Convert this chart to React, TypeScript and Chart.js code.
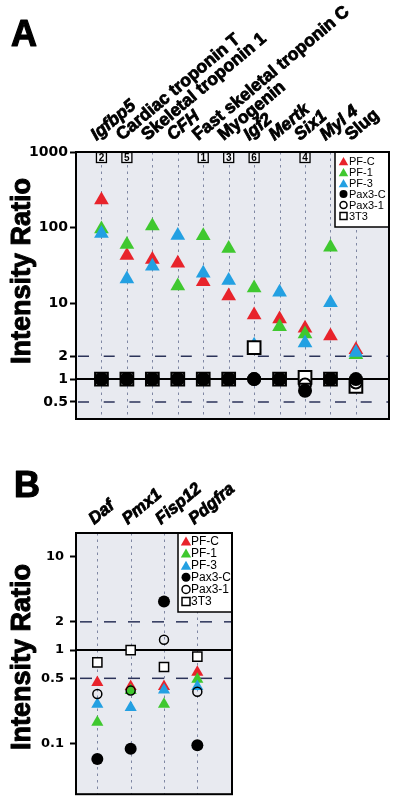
import React, { useEffect, useRef } from "react";
import { Chart, registerables } from "chart.js";
Chart.register(...registerables);

const FONT = '"Liberation Sans", Arial, Helvetica, sans-serif';
const TICKFONT = '"DejaVu Sans", "Liberation Sans", sans-serif';
const RED = "#e8232b";
const GREEN = "#3fc82f";
const BLUE = "#23a0e2";
const BG = "#e8eaf0";
const VGRID = "#7f87a3";
const HDASH = "#2b3359";

// ---------- Panel A data ----------
const genesA = [
  "Igfbp5", "Cardiac troponin T", "Skeletal troponin 1", "CFH",
  "Fast skeletal troponin C", "Myogenin", "Igf2", "Mertk", "Six1", "Myl 4", "Slug",
];
const italicA = [true, false, false, true, false, false, true, true, true, true, false];
const pfC_A = [232, 43, 38, 34, 19.3, 12.5, 7.0, 6.2, 4.7, 3.7, 2.45];
const pf1_A = [96, 60, 105, 17, 78, 53, 16, 4.9, 3.95, 55, 2.1];
const pf3_A = [84, 21, 31, 79, 25, 20, 2.8, 14, 3.0, 10.2, 2.25];
const pax3C_A = [1, 1, 1, 1, 1, 1, 1, 1, 0.7, 1, 1];
const pax31_A = [1, 1, 1, 1, 1, 1, 1, 1, 0.85, 1, 0.9];
const t3_A = [1, 1, 1, 1, 1, 1, 2.6, 1, 1.05, 1, 0.8];
const boxNumsA = ["2", "5", "", "", "1", "3", "6", "", "4", "", ""];
const yTicksA = [1000, 100, 10, 2, 1, 0.5];

// ---------- Panel B data ----------
const genesB = ["Daf", "Pmx1", "Fisp12", "Pdgfra"];
const italicB = [true, true, true, true];
const pfC_B = [0.45, 0.41, 0.41, 0.58];
const pf1_B = [0.17, 0.37, 0.265, 0.49];
const pf3_B = [0.265, 0.245, 0.375, 0.41];
const pax3C_B = [0.069, 0.089, 3.3, 0.097];
const pax31_B = [0.34, 0.37, 1.29, 0.36];
const t3_B = [0.74, 1.0, 0.66, 0.85];
const yTicksB = [10, 2, 1, 0.5, 0.1];

const legendLabels = ["PF-C", "PF-1", "PF-3", "Pax3-C", "Pax3-1", "3T3"];
const legendKinds = ["triR", "triG", "triB", "dot", "ring", "sq"];

type PanelCfg = {
  letter: string;
  genes: string[];
  italic: boolean[];
  series: number[][];
  yTicks: number[];
  yMin: number;
  yMax: number;
  xMin: number;
  xMax: number;
  boxNums?: string[];
  canvasH: number;
  padTop: number;
  padBottom: number;
  padRight: number;
  yWidth: number;
  tickFont: number;
  tickPad: number;
  triR: number;
  dotR: number;
  ringR: number;
  ringW: number;
  sqR: number;
  sqW: number;
  letterPos: [number, number];
  labelOff: [number, number];
  labelFont: number;
  titleX: number;
  titleY: number;
  legend: { w: number; h: number; y0: number; dy: number; sx: number; tx: number; font: number; tri: number; dot: number; sq: number };
  hDash: number[];
  hDashStart: number;
};

function drawTri(ctx: CanvasRenderingContext2D, x: number, y: number, r: number, color: string) {
  ctx.beginPath();
  let rad = 0;
  ctx.moveTo(x + Math.sin(rad) * r, y - Math.cos(rad) * r);
  rad += (2 * Math.PI) / 3;
  ctx.lineTo(x + Math.sin(rad) * r, y - Math.cos(rad) * r);
  rad += (2 * Math.PI) / 3;
  ctx.lineTo(x + Math.sin(rad) * r, y - Math.cos(rad) * r);
  ctx.closePath();
  ctx.fillStyle = color;
  ctx.fill();
}

function heavyText(ctx: CanvasRenderingContext2D, text: string, x: number, y: number, w: number) {
  ctx.fillText(text, x, y);
  ctx.lineJoin = "round";
  ctx.lineWidth = w;
  ctx.strokeStyle = "#000";
  ctx.strokeText(text, x, y);
}

function makeConfig(p: PanelCfg): any {
  const [pfC, pf1, pf3, pax3C, pax31, t3] = p.series;
  const pts = (arr: number[]) => arr.map((v, i) => ({ x: i + 1, y: v }));
  const tri = (label: string, arr: number[], color: string, order: number) => ({
    label,
    data: pts(arr),
    showLine: false,
    order,
    pointStyle: "triangle",
    pointRadius: p.triR,
    pointHoverRadius: p.triR,
    pointBackgroundColor: color,
    pointBorderColor: color,
    pointBorderWidth: 0,
    backgroundColor: color,
    borderColor: color,
  });
  const datasets = [
    tri("PF-C", pfC, RED, 5),
    tri("PF-1", pf1, GREEN, 4),
    tri("PF-3", pf3, BLUE, 3),
    {
      label: "Pax3-C",
      data: pts(pax3C),
      showLine: false,
      order: 0,
      pointStyle: "circle",
      pointRadius: p.dotR,
      pointHoverRadius: p.dotR,
      pointBackgroundColor: "#000",
      pointBorderColor: "#000",
      pointBorderWidth: 0,
    },
    {
      label: "Pax3-1",
      data: pts(pax31),
      showLine: false,
      order: 1,
      pointStyle: "circle",
      pointRadius: p.ringR,
      pointHoverRadius: p.ringR,
      pointBackgroundColor: "rgba(0,0,0,0)",
      pointBorderColor: "#000",
      pointBorderWidth: p.ringW,
    },
    {
      label: "3T3",
      data: pts(t3),
      showLine: false,
      order: 2,
      pointStyle: "rect",
      pointRadius: p.sqR,
      pointHoverRadius: p.sqR,
      pointBackgroundColor: "#fff",
      pointBorderColor: "#000",
      pointBorderWidth: p.sqW,
    },
  ];

  const panelPlugin = {
    id: "panelDecor" + p.letter,
    beforeDatasetsDraw(chart: any) {
      const ctx: CanvasRenderingContext2D = chart.ctx;
      const { left, right, top, bottom } = chart.chartArea;
      const xs = chart.scales.x;
      const ys = chart.scales.y;
      ctx.save();
      ctx.fillStyle = BG;
      ctx.fillRect(left, top, right - left, bottom - top);
      ctx.strokeStyle = VGRID;
      ctx.lineWidth = 1;
      ctx.setLineDash([2.5, 4]);
      p.genes.forEach((_, i) => {
        const x = Math.round(xs.getPixelForValue(i + 1)) + 0.5;
        ctx.beginPath();
        ctx.moveTo(x, top);
        ctx.lineTo(x, bottom);
        ctx.stroke();
      });
      ctx.strokeStyle = HDASH;
      ctx.lineWidth = 1.5;
      const period = p.hDash[0] + p.hDash[1];
      ctx.setLineDash(p.hDash);
      ctx.lineDashOffset = period - p.hDashStart;
      [2, 0.5].forEach((v) => {
        const y = ys.getPixelForValue(v);
        ctx.beginPath();
        ctx.moveTo(left, y);
        ctx.lineTo(right, y);
        ctx.stroke();
      });
      ctx.setLineDash([]);
      ctx.strokeStyle = "#000";
      ctx.lineWidth = 2;
      const y1 = ys.getPixelForValue(1);
      ctx.beginPath();
      ctx.moveTo(left, y1);
      ctx.lineTo(right, y1);
      ctx.stroke();
      ctx.restore();
    },
    afterDatasetsDraw(chart: any) {
      const ctx: CanvasRenderingContext2D = chart.ctx;
      const { left, right, top, bottom } = chart.chartArea;
      const xs = chart.scales.x;
      ctx.save();
      if (p.boxNums) {
        p.boxNums.forEach((n, i) => {
          if (!n) return;
          const x = xs.getPixelForValue(i + 1);
          ctx.fillStyle = "#f3f4f7";
          ctx.fillRect(x - 5, top + 0.5, 10, 10);
          ctx.strokeStyle = "#000";
          ctx.lineWidth = 1.3;
          ctx.strokeRect(x - 5, top + 0.5, 10, 10);
          ctx.fillStyle = "#000";
          ctx.font = `bold 10px ${FONT}`;
          ctx.textAlign = "center";
          ctx.textBaseline = "middle";
          ctx.fillText(n, x, top + 6);
        });
      }
      const L = p.legend;
      const lx = right - L.w;
      ctx.fillStyle = "#fff";
      ctx.fillRect(lx, top, L.w, L.h);
      ctx.strokeStyle = "#000";
      ctx.lineWidth = 1.5;
      ctx.strokeRect(lx, top, L.w, L.h);
      legendLabels.forEach((lab, i) => {
        const y = top + L.y0 + i * L.dy;
        const sx = lx + L.sx;
        const k = legendKinds[i];
        if (k === "triR") drawTri(ctx, sx, y + L.tri * 0.25, L.tri, RED);
        else if (k === "triG") drawTri(ctx, sx, y + L.tri * 0.25, L.tri, GREEN);
        else if (k === "triB") drawTri(ctx, sx, y + L.tri * 0.25, L.tri, BLUE);
        else if (k === "dot") {
          ctx.beginPath();
          ctx.arc(sx, y, L.dot, 0, Math.PI * 2);
          ctx.fillStyle = "#000";
          ctx.fill();
        } else if (k === "ring") {
          ctx.beginPath();
          ctx.arc(sx, y, L.dot - 0.5, 0, Math.PI * 2);
          ctx.strokeStyle = "#000";
          ctx.lineWidth = 1.5;
          ctx.stroke();
        } else {
          ctx.fillStyle = "#fff";
          ctx.fillRect(sx - L.sq, y - L.sq, 2 * L.sq, 2 * L.sq);
          ctx.strokeStyle = "#000";
          ctx.lineWidth = 1.5;
          ctx.strokeRect(sx - L.sq, y - L.sq, 2 * L.sq, 2 * L.sq);
        }
        ctx.fillStyle = "#000";
        ctx.font = `${L.font}px ${FONT}`;
        ctx.textAlign = "left";
        ctx.textBaseline = "middle";
        ctx.fillText(lab, lx + L.tx, y + 0.5);
      });
      ctx.strokeStyle = "#000";
      ctx.lineWidth = 2;
      ctx.strokeRect(left, top, right - left, bottom - top);
      ctx.restore();
    },
    afterDraw(chart: any) {
      const ctx: CanvasRenderingContext2D = chart.ctx;
      const { top } = chart.chartArea;
      const xs = chart.scales.x;
      ctx.save();
      ctx.fillStyle = "#000";
      ctx.font = `bold 36px ${FONT}`;
      ctx.textAlign = "left";
      ctx.textBaseline = "alphabetic";
      heavyText(ctx, p.letter, p.letterPos[0], p.letterPos[1], 1.2);
      p.genes.forEach((g, i) => {
        const x = xs.getPixelForValue(i + 1) + p.labelOff[0];
        const y = top + p.labelOff[1];
        ctx.save();
        ctx.translate(x, y);
        ctx.rotate((-40 * Math.PI) / 180);
        ctx.font = `${p.italic[i] ? "italic " : ""}bold ${p.labelFont}px ${FONT}`;
        ctx.textAlign = "left";
        ctx.textBaseline = "alphabetic";
        ctx.fillStyle = "#000";
        heavyText(ctx, g, 0, 0, 0.8);
        ctx.restore();
      });
      ctx.save();
      ctx.translate(p.titleX, p.titleY);
      ctx.rotate(-Math.PI / 2);
      ctx.font = `bold 27px ${FONT}`;
      ctx.textAlign = "center";
      ctx.textBaseline = "middle";
      ctx.fillStyle = "#000";
      heavyText(ctx, "Intensity Ratio", 0, 0, 1);
      ctx.restore();
      ctx.restore();
    },
  };

  return {
    type: "scatter",
    data: { datasets },
    options: {
      animation: false,
      responsive: false,
      events: [],
      layout: { padding: { top: p.padTop, bottom: p.padBottom, right: p.padRight, left: 0 } },
      plugins: { legend: { display: false }, tooltip: { enabled: false } },
      scales: {
        x: {
          type: "linear",
          display: false,
          min: p.xMin,
          max: p.xMax,
        },
        y: {
          type: "logarithmic",
          min: p.yMin,
          max: p.yMax,
          afterFit(scale: any) {
            scale.width = p.yWidth;
          },
          afterBuildTicks(scale: any) {
            scale.ticks = p.yTicks.map((v) => ({ value: v }));
          },
          ticks: {
            autoSkip: false,
            padding: p.tickPad,
            color: "#000",
            font: { family: TICKFONT, size: p.tickFont, weight: "bold" },
            callback: (v: any) => String(v),
          },
          grid: {
            drawOnChartArea: false,
            drawTicks: true,
            tickLength: 6,
            tickColor: "#000",
            tickWidth: 2,
          },
          border: { display: false },
        },
      },
    },
    plugins: [panelPlugin],
  };
}

const panelA: PanelCfg = {
  letter: "A",
  genes: genesA,
  italic: italicA,
  series: [pfC_A, pf1_A, pf3_A, pax3C_A, pax31_A, t3_A],
  yTicks: yTicksA,
  yMin: 0.297,
  yMax: 1000,
  xMin: 0,
  xMax: 12.3,
  boxNums: boxNumsA,
  canvasH: 430,
  padTop: 152,
  padBottom: 11,
  padRight: 8,
  yWidth: 76,
  tickFont: 14,
  tickPad: 2,
  triR: 8.5,
  dotR: 7,
  ringR: 6,
  ringW: 2,
  sqR: 9,
  sqW: 2,
  letterPos: [11, 46],
  labelOff: [-5, -11],
  labelFont: 17.5,
  titleX: 23,
  titleY: 271,
  legend: { w: 54, h: 75, y0: 9, dy: 11, sx: 8.5, tx: 14, font: 11, tri: 5.5, dot: 4, sq: 3.5 },
  hDash: [11, 14.7],
  hDashStart: 2,
};

const panelB: PanelCfg = {
  letter: "B",
  genes: genesB,
  italic: italicB,
  series: [pfC_B, pf1_B, pf3_B, pax3C_B, pax31_B, t3_B],
  yTicks: yTicksB,
  yMin: 0.0291,
  yMax: 17.7,
  xMin: 0.36,
  xMax: 5.04,
  canvasH: 378,
  padTop: 103,
  padBottom: 5,
  padRight: 168,
  yWidth: 76,
  tickFont: 13,
  tickPad: 6,
  triR: 7,
  dotR: 6,
  ringR: 4.5,
  ringW: 1.5,
  sqR: 6.5,
  sqW: 1.5,
  letterPos: [14, 67],
  labelOff: [-3, -8],
  labelFont: 17,
  titleX: 23,
  titleY: 227,
  legend: { w: 54, h: 79, y0: 8, dy: 12.1, sx: 8, tx: 13, font: 12, tri: 6, dot: 4.5, sq: 4 },
  hDash: [12, 12],
  hDashStart: 4,
};

function Panel({ cfg, top }: { cfg: PanelCfg; top: number }) {
  const ref = useRef<HTMLCanvasElement | null>(null);
  useEffect(() => {
    if (!ref.current) return;
    const chart = new Chart(ref.current, makeConfig(cfg));
    return () => chart.destroy();
  }, [cfg]);
  return (
    <canvas
      ref={ref}
      width={400}
      height={cfg.canvasH}
      style={{ position: "absolute", left: 0, top, width: 400, height: cfg.canvasH }}
    />
  );
}

export default function App() {
  return (
    <div style={{ position: "absolute", left: 0, top: 0, width: 400, height: 808, background: "#fff" }}>
      <Panel cfg={panelA} top={0} />
      <Panel cfg={panelB} top={430} />
    </div>
  );
}
